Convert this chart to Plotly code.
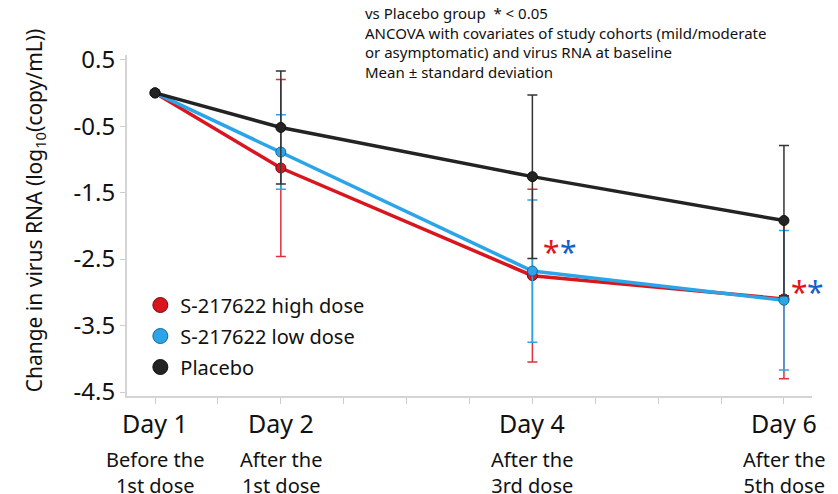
import plotly.graph_objects as go

days = [1, 2, 4, 6]
day_labels = ["Day 1", "Day 2", "Day 4", "Day 6"]
sub_labels = ["Before the<br>1st dose", "After the<br>1st dose", "After the<br>3rd dose", "After the<br>5th dose"]

high_mean = [0.0, -1.13, -2.75, -3.10]
high_sd = [0.0, 1.33, 1.30, 1.20]
low_mean = [0.0, -0.89, -2.68, -3.12]
low_sd = [0.0, 0.56, 1.07, 1.05]
placebo_mean = [0.0, -0.52, -1.26, -1.92]
placebo_sd = [0.0, 0.85, 1.23, 1.13]

series = [
    ("S-217622 high dose", high_mean, high_sd, "#d9151d", "#e0303a", "#7a0a0e"),
    ("S-217622 low dose", low_mean, low_sd, "#2ba4e8", "#2ba4e8", "#15699e"),
    ("Placebo", placebo_mean, placebo_sd, "#232323", "#333333", "#111111"),
]

sig_days = [4, 6]
sig_y = [-2.33, -2.93]
sig_xshift = [(19, 36), (16, 32)]
FONT = "Noto Sans"

fig = go.Figure()
for i, (name, m, sd, lc, ec, edge) in enumerate(series):
    fig.add_trace(go.Scatter(
        x=days, y=m, mode="lines+markers", name=name, showlegend=False,
        line=dict(color=lc, width=3.5),
        marker=dict(size=10, color=lc, line=dict(color=edge, width=1)),
        error_y=dict(type="data", array=sd, visible=True, color=ec, thickness=1.5, width=5),
    ))
for i, (name, m, sd, lc, ec, edge) in enumerate(series):
    fig.add_trace(go.Scatter(
        x=[None], y=[None], mode="markers", name=name, legendgroup=f"g{i}",
        marker=dict(size=15, color=lc, line=dict(color=edge, width=1)),
    ))

annotations = []
for d, dl, sl in zip(days, day_labels, sub_labels):
    annotations.append(dict(x=d, y=-0.022, xref="x", yref="paper", text=dl, showarrow=False,
                            yanchor="top", font=dict(size=25, color="#111", family=FONT)))
    annotations.append(dict(x=d, y=-0.142, xref="x", yref="paper", text=sl, showarrow=False,
                            yanchor="top", font=dict(size=20, color="#111", family=FONT)))

for d, yy, (xr, xb) in zip(sig_days, sig_y, sig_xshift):
    annotations.append(dict(x=d, y=yy, xref="x", yref="y", text="*", showarrow=False,
                            xshift=xr, yshift=-4, font=dict(size=30, color="#e4141c", family=FONT)))
    annotations.append(dict(x=d, y=yy, xref="x", yref="y", text="*", showarrow=False,
                            xshift=xb, yshift=-4, font=dict(size=30, color="#1560c8", family=FONT)))

annotations.append(dict(
    x=0.345, y=1.157, xref="paper", yref="paper", xanchor="left", yanchor="top", align="left",
    showarrow=False,
    text="vs Placebo group  * < 0.05<br>ANCOVA with covariates of study cohorts (mild/moderate<br>"
         "or asymptomatic) and virus RNA at baseline<br>Mean ± standard deviation",
    font=dict(size=15, color="#111", family=FONT),
))

annotations.append(dict(
    x=-0.134, y=0.545, xref="paper", yref="paper", xanchor="center", yanchor="middle",
    textangle=-90, showarrow=False,
    text="Change in virus RNA (log<sub>10</sub>(copy/mL))",
    font=dict(size=21, color="#111", family=FONT),
))

fig.update_layout(
    width=838, height=494,
    margin=dict(l=119, r=34, t=47, b=106),
    paper_bgcolor="white", plot_bgcolor="white",
    font=dict(family=FONT, color="#111"),
    annotations=annotations,
    legend=dict(x=0.0195, y=0.324, xanchor="left", yanchor="top", bgcolor="rgba(0,0,0,0)",
                font=dict(size=20, color="#111", family=FONT), tracegroupgap=2),
    xaxis=dict(range=[0.777, 6.223], tickvals=[1 + 0.5 * k for k in range(11)],
               showticklabels=False, ticks="outside", ticklen=6, tickcolor="#cccccc",
               showline=True, linecolor="#d4d4d4", linewidth=2, showgrid=False, zeroline=False),
    yaxis=dict(range=[-4.56, 0.57], tickvals=[0.5, -0.5, -1.5, -2.5, -3.5, -4.5],
               ticktext=["0.5", "-0.5", "-1.5", "-2.5", "-3.5", "-4.5"],
               ticks="outside", ticklen=5, tickcolor="#cccccc",
               tickfont=dict(size=24, color="#111", family=FONT),
               showline=True, linecolor="#d4d4d4", linewidth=2, showgrid=False, zeroline=False),
)

fig.write_html("out.html")
